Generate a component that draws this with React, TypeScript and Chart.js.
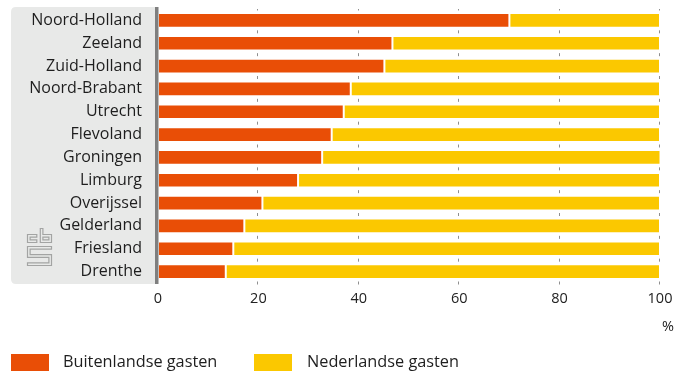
import React, { useEffect, useRef } from "react";
import { Chart, registerables } from "chart.js";

Chart.register(...registerables);

const provinces = [
  "Noord-Holland",
  "Zeeland",
  "Zuid-Holland",
  "Noord-Brabant",
  "Utrecht",
  "Flevoland",
  "Groningen",
  "Limburg",
  "Overijssel",
  "Gelderland",
  "Friesland",
  "Drenthe",
];
const buitenlandse = [70.0, 46.7, 45.1, 38.4, 37.0, 34.6, 32.7, 27.9, 20.8, 17.2, 15.0, 13.5];
const nederlandse = [30.0, 53.3, 54.9, 61.6, 63.0, 65.4, 67.4, 72.1, 79.2, 82.8, 85.0, 86.5];
const xTicks = [0, 20, 40, 60, 80, 100];
const seriesNames = ["Buitenlandse gasten", "Nederlandse gasten"];
const unitLabel = "%";

const ORANGE = "#e94e06";
const YELLOW = "#fbc800";
const PANEL = "#e8e9e8";
const FONT = "'Open Sans', Roboto, 'DejaVu Sans', sans-serif";

function drawLogo(ctx: CanvasRenderingContext2D, ox: number, oy: number) {
  const paths = [
    [[8.5, 7.8], [1.8, 7.8], [1.8, 13.2], [8.5, 13.2]],
    [[14.6, 1.8], [14.6, 13.2], [23.2, 13.2], [23.2, 7.8], [14.6, 7.8]],
    [[23.2, 19.8], [1.8, 19.8], [1.8, 28], [23.2, 28], [23.2, 36.2], [1.8, 36.2]],
  ];
  const stroke = (w: number, color: string) => {
    ctx.lineWidth = w;
    ctx.strokeStyle = color;
    ctx.lineCap = "square";
    ctx.lineJoin = "miter";
    paths.forEach((p) => {
      ctx.beginPath();
      p.forEach(([x, y], i) => (i === 0 ? ctx.moveTo(ox + x, oy + y) : ctx.lineTo(ox + x, oy + y)));
      ctx.stroke();
    });
  };
  stroke(3.8, "#a3a4a3");
  stroke(1.4, PANEL);
}

const decorPlugin = {
  id: "decor",
  beforeDraw(chart: any) {
    const { ctx, chartArea } = chart;
    const x0 = 11;
    const x1 = chartArea.left;
    const y0 = chartArea.top - 2;
    const y1 = chartArea.bottom + 1;
    const r = 5;
    ctx.save();
    ctx.fillStyle = PANEL;
    ctx.beginPath();
    ctx.moveTo(x1, y0);
    ctx.lineTo(x0 + r, y0);
    ctx.quadraticCurveTo(x0, y0, x0, y0 + r);
    ctx.lineTo(x0, y1 - r);
    ctx.quadraticCurveTo(x0, y1, x0 + r, y1);
    ctx.lineTo(x1, y1);
    ctx.closePath();
    ctx.fill();
    drawLogo(ctx, 27, 228);
    ctx.restore();
  },
  beforeDatasetsDraw(chart: any) {
    const { ctx, chartArea } = chart;
    const xs = chart.scales.x;
    const ys = chart.scales.y;
    ctx.save();
    ctx.strokeStyle = "#8f8f8f";
    ctx.lineWidth = 1;
    for (let i = 0; i <= provinces.length; i++) {
      const yb = ys.getPixelForValue(i - 0.5);
      const a = Math.max(chartArea.top, yb - 1.5);
      const b = Math.min(chartArea.bottom + 1.5, yb + 1.5);
      xTicks.forEach((v) => {
        if (v === 0) return;
        const x = Math.round(xs.getPixelForValue(v)) - 0.5;
        ctx.beginPath();
        ctx.moveTo(x, a);
        ctx.lineTo(x, b);
        ctx.stroke();
      });
    }
    ctx.restore();
  },
  afterDatasetsDraw(chart: any) {
    const { ctx, chartArea } = chart;
    ctx.save();
    ctx.fillStyle = "#7f7f7f";
    ctx.fillRect(chartArea.left - 3, chartArea.top - 2, 3.5, chartArea.bottom - chartArea.top + 3);
    ctx.restore();
  },
};

export default function App() {
  const ref = useRef<HTMLCanvasElement | null>(null);

  useEffect(() => {
    if (!ref.current) return;
    const chart = new Chart(ref.current, {
      type: "bar",
      data: {
        labels: provinces,
        datasets: [
          {
            label: seriesNames[0],
            data: buitenlandse,
            backgroundColor: ORANGE,
            borderColor: "rgba(255,255,255,0.75)",
            borderWidth: 1,
            borderSkipped: false,
            categoryPercentage: 1,
            barPercentage: 0.64,
          },
          {
            label: seriesNames[1],
            data: nederlandse,
            backgroundColor: YELLOW,
            borderColor: "rgba(255,255,255,0.75)",
            borderWidth: 1,
            borderSkipped: false,
            categoryPercentage: 1,
            barPercentage: 0.64,
          },
        ],
      },
      options: {
        indexAxis: "y",
        responsive: false,
        animation: false,
        layout: { padding: { top: 9, right: 17, bottom: 59, left: 0 } },
        plugins: {
          legend: { display: false },
          tooltip: { enabled: false },
        },
        scales: {
          x: {
            stacked: true,
            min: 0,
            max: 100,
            afterBuildTicks: (axis: any) => {
              axis.ticks = xTicks.map((v) => ({ value: v }));
            },
            afterFit: (scale: any) => {
              scale.height = 30;
              scale.paddingLeft = 0;
              scale.paddingRight = 0;
            },
            grid: { display: false, drawTicks: false },
            border: { display: false },
            ticks: {
              padding: 7,
              color: "#222",
              font: { family: FONT, size: 14.5 },
              maxRotation: 0,
            },
          },
          y: {
            stacked: true,
            afterFit: (scale: any) => {
              scale.width = 158;
              scale.paddingTop = 0;
              scale.paddingBottom = 0;
            },
            grid: { display: false, drawTicks: false },
            border: { display: false },
            ticks: {
              padding: 16,
              color: "#1e1e1e",
              font: { family: FONT, size: 16 },
            },
          },
        },
      },
      plugins: [decorPlugin],
    });
    return () => chart.destroy();
  }, []);

  const legendText: React.CSSProperties = {
    position: "absolute",
    top: 351,
    fontFamily: FONT,
    fontSize: 16.3,
    lineHeight: "20px",
    color: "#1e1e1e",
    whiteSpace: "nowrap",
  };

  return (
    <div style={{ position: "absolute", left: 0, top: 0, width: 677, height: 372, background: "#fff", overflow: "hidden" }}>
      <canvas ref={ref} width={677} height={372} style={{ display: "block" }} />
      <div style={{ position: "absolute", left: 662, top: 316, fontFamily: FONT, fontSize: 14.5, color: "#222" }}>{unitLabel}</div>
      <div style={{ position: "absolute", left: 11, top: 354, width: 38, height: 17, background: ORANGE }} />
      <div style={{ ...legendText, left: 63 }}>{seriesNames[0]}</div>
      <div style={{ position: "absolute", left: 254, top: 354, width: 38, height: 17, background: YELLOW }} />
      <div style={{ ...legendText, left: 307 }}>{seriesNames[1]}</div>
    </div>
  );
}
